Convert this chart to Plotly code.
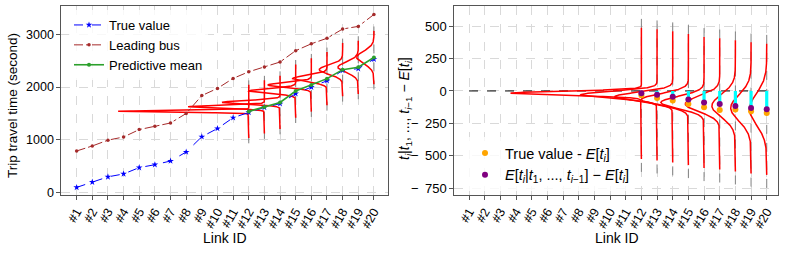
import numpy as np
import plotly.graph_objects as go

# ---------------- data ----------------
link_pos = list(range(1, 21))
link_labels = [f"#{i}" for i in link_pos]

true_value = [100, 200, 300, 355, 475, 530, 600, 770, 1060, 1215,
              1420, 1520, 1615, 1685, 1875, 2000, 2120, 2315, 2350, 2530]
leading_bus = [790, 885, 995, 1055, 1195, 1260, 1320, 1500, 1840, 1975,
               2165, 2290, 2380, 2475, 2690, 2820, 2925, 3100, 3150, 3375]

pred_links = [12, 13, 14, 15, 16, 17, 18, 19, 20]
pred_mean = [1540, 1625, 1710, 1925, 2040, 2160, 2330, 2375, 2560]
cond_diff = [-18, -30, -45, -66, -89, -100, -115, -131, -141]     # E[t_i|...]-E[t_i]
true_diff = [-33, -54, -74, -100, -125, -146, -143, -156, -169]   # true - E[t_i]
pred_std = [15.7, 27, 35, 44, 47, 60, 87, 100, 119]
peak_width = [8.35, 4.87, 3.7, 3.0, 2.76, 2.2, 1.5, 1.3, 1.1]      # in link units

left_yticks = [0, 1000, 2000, 3000]
right_yticks = [-750, -500, -250, 0, 250, 500]

RED_HALF = 505
GREY_HALF = 605

FONT = "Liberation Sans, Arial, sans-serif"
W, H = 789, 253
TOP, BOT = 6, 195
PH = BOT - TOP


def py(px):
    return (BOT - px) / PH


fig = go.Figure()


def density_traces(centers, xa, ya):
    gx, gy, rx, ry = [], [], [], []
    for i, c, s, w in zip(pred_links, centers, pred_std, peak_width):
        gx += [i, i, None]
        gy += [c - GREY_HALF, c + GREY_HALF, None]
        y = np.linspace(c - RED_HALF, c + RED_HALF, 1500)
        x = i - w * np.exp(-0.5 * ((y - c) / s) ** 2)
        rx += list(x) + [None]
        ry += list(y) + [None]
    fig.add_trace(go.Scatter(x=gx, y=gy, mode="lines", xaxis=xa, yaxis=ya,
                             line=dict(color="gray", width=1, dash="dash"),
                             showlegend=False, hoverinfo="skip"))
    fig.add_trace(go.Scatter(x=rx, y=ry, mode="lines", xaxis=xa, yaxis=ya,
                             line=dict(color="red", width=1.5),
                             showlegend=False, hoverinfo="skip"))


# ---------------- left panel ----------------
density_traces(pred_mean, "x", "y")

fig.add_trace(go.Scatter(x=link_pos, y=true_value, mode="lines+markers",
                         name="True value", legend="legend",
                         line=dict(color="blue", width=1, dash="dash"),
                         marker=dict(symbol="star", size=5, color="blue")))
fig.add_trace(go.Scatter(x=link_pos, y=leading_bus, mode="lines+markers",
                         name="Leading bus", legend="legend",
                         line=dict(color="#a52a2a", width=1, dash="dashdot"),
                         marker=dict(symbol="circle", size=3.5, color="#a52a2a")))
fig.add_trace(go.Scatter(x=pred_links, y=pred_mean, mode="lines+markers",
                         name="Predictive mean", legend="legend",
                         line=dict(color="#2ca02c", width=1.6),
                         marker=dict(symbol="circle", size=4, color="#2ca02c")))

# ---------------- right panel ----------------
fig.add_trace(go.Scatter(x=[1, 20], y=[0, 0], mode="lines", xaxis="x2", yaxis="y2",
                         line=dict(color="black", width=1, dash="dash"),
                         showlegend=False, hoverinfo="skip"))
density_traces(cond_diff, "x2", "y2")

cx, cy = [], []
for i, d in zip(pred_links, cond_diff):
    cx += [i, i, None]
    cy += [0, d, None]
fig.add_trace(go.Scatter(x=cx, y=cy, mode="lines", xaxis="x2", yaxis="y2",
                         line=dict(color="cyan", width=3.2),
                         showlegend=False, hoverinfo="skip"))

fig.add_trace(go.Scatter(x=pred_links, y=true_diff, mode="markers", xaxis="x2", yaxis="y2",
                         name="True value - <i>E</i>[<i>t<sub>i</sub></i>]", legend="legend2",
                         marker=dict(color="orange", size=6)))
fig.add_trace(go.Scatter(x=pred_links, y=cond_diff, mode="markers", xaxis="x2", yaxis="y2",
                         name="<i>E</i>[<i>t<sub>i</sub></i>|<i>t</i><sub>1</sub>, ..., "
                              "<i>t</i><sub><i>i</i>−1</sub>] − <i>E</i>[<i>t<sub>i</sub></i>]",
                         legend="legend2",
                         marker=dict(color="purple", size=6)))

# ---------------- layout ----------------
axis_common = dict(showline=True, mirror=True, linecolor="#555555", linewidth=1.3,
                   ticks="outside", ticklen=3.5, tickcolor="#555555",
                   showgrid=True, gridcolor="#d9d9d9", griddash="dash", gridwidth=0.8,
                   zeroline=False, automargin=False,
                   tickfont=dict(family=FONT, size=12.5, color="black"))

xcommon = dict(axis_common, tickmode="array", tickvals=link_pos, ticktext=link_labels,
               tickangle=-60)


def fmt(v):
    return ("\u2212\u2002" + str(-v)) if v < 0 else str(v)


fig.update_layout(
    width=W, height=H,
    margin=dict(l=0, r=0, t=TOP, b=H - BOT, autoexpand=False),
    plot_bgcolor="white", paper_bgcolor="white",
    font=dict(family=FONT, size=12, color="black"),
    xaxis=dict(xcommon, domain=[61 / W, 388 / W], range=[0, 20.9], anchor="y"),
    yaxis=dict(axis_common, range=[-44, 3536], tickvals=left_yticks, anchor="x"),
    xaxis2=dict(xcommon, domain=[454 / W, 778 / W], range=[0.04, 20.72], anchor="y2"),
    yaxis2=dict(axis_common, range=[-801, 654], tickvals=right_yticks,
                ticktext=[fmt(v) for v in right_yticks], anchor="x2",
                tickfont=dict(family=FONT, size=13, color="black")),
    legend=dict(x=69 / W, y=py(10), xanchor="left", yanchor="top",
                bgcolor="rgba(255,255,255,0.8)", borderwidth=0,
                font=dict(family=FONT, size=13), tracegroupgap=0),
    legend2=dict(x=465 / W, y=py(137), xanchor="left", yanchor="top",
                 bgcolor="rgba(255,255,255,0.8)", borderwidth=0,
                 font=dict(family=FONT, size=14.5), tracegroupgap=0),
    showlegend=True,
)

ann = [
    dict(text="Trip travel time (second)", x=12 / W, y=py(106), textangle=-90, size=13.5),
    dict(text="<i>t<sub>i</sub></i>|<i>t</i><sub>1</sub>, ..., <i>t</i><sub><i>i</i>−1</sub>"
              " − <i>E</i>[<i>t<sub>i</sub></i>]", x=405 / W, y=py(108), textangle=-90, size=14),
    dict(text="Link ID", x=225 / W, y=py(238), textangle=0, size=14),
    dict(text="Link ID", x=617 / W, y=py(238), textangle=0, size=14),
]
for a in ann:
    fig.add_annotation(xref="paper", yref="paper", showarrow=False,
                       xanchor="center", yanchor="middle",
                       text=a["text"], x=a["x"], y=a["y"], textangle=a["textangle"],
                       font=dict(family=FONT, size=a["size"], color="black"))

fig.write_html("out.html", config={"displayModeBar": False},
               post_script="document.body.style.margin='0';"
                           "document.body.style.overflow='hidden';")
